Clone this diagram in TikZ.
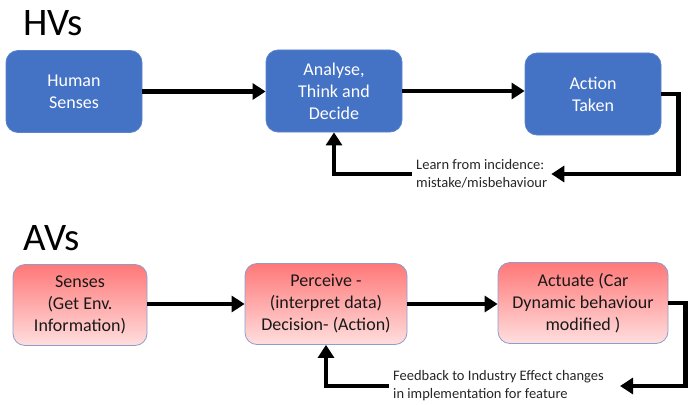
\documentclass[tikz,border=0pt]{standalone}
\usepackage{fontspec}
\setmainfont{Carlito}
\usetikzlibrary{arrows.meta}

\definecolor{hvblue}{HTML}{4472C4}
\definecolor{hvedge}{HTML}{5B84CF}
\definecolor{avtop}{HTML}{FF7878}
\definecolor{avbot}{HTML}{FFDEDE}
\definecolor{avedge}{HTML}{8C9ED0}

\tikzset{
 hvbox/.style={draw=hvedge,fill=hvblue,rounded corners=12pt,line width=0.8pt,
   text=white,align=center,minimum width=136pt,minimum height=82pt,
   font=\fontsize{18}{22}\selectfont},
 avbox/.style={draw=avedge,top color=avtop,bottom color=avbot,rounded corners=12pt,
   line width=0.8pt,text=black!90,align=center,minimum height=81pt,
   font=\fontsize{18}{22}\selectfont},
 flow/.style={line width=4.5pt,-{Triangle[length=13pt,width=16pt]}},
 note/.style={anchor=west,align=left,inner sep=4pt,text=black!85,
   font=\fontsize{14.5}{18}\selectfont},
 heading/.style={anchor=base west,inner sep=0pt,font=\fontsize{39}{42}\selectfont}
}

\begin{document}
\begin{tikzpicture}[x=1pt,y=-1pt]
 \useasboundingbox (0,0) rectangle (690,404);

% Human driven vehicles
 \node[heading] (hvt) at (23,36) {HVs};
 \node[hvbox] (hs) at (74,91.5) {Human\\Senses};
 \node[hvbox] (atd) at (334,91) {Analyse,\\Think and\\Decide};
 \node[hvbox] (at) at (593,94) {Action\\Taken};
 \node[note] (lrn) at (412,174) {Learn from incidence:\\mistake/misbehaviour};

 \draw[flow] (hs.east) -- (hs.east -| atd.west);
 \draw[flow] (atd.east) -- (atd.east -| at.west);
 \draw[flow] (at.east) -- ++(17,0) |- (lrn.east); % back to the note
 \draw[flow] (lrn.west) -| (atd.south);

% Autonomous vehicles
 \node[heading] (avt) at (23,250) {AVs};
 \node[avbox,minimum width=134pt] (sen) at (80,305) {Senses\\(Get Env.\\Information)};
 \node[avbox,minimum width=162pt] (per) at (326,304) {Perceive -\\(interpret data)\\Decision- (Action)};
 \node[avbox,minimum width=170pt] (act) at (583,303) {Actuate (Car\\Dynamic behaviour\\modified )};
 \node[note] (fb) at (389,386) {Feedback to Industry Effect changes\\in implementation for feature};

 \draw[flow] (sen.east |- per.east) -- (per.west);
 \draw[flow] (per.east) -- (per.east -| act.west);
 \draw[flow,shorten >=12pt] (act.east) -- ++(17,0) |- (fb.east); % feedback loop
 \draw[flow] (fb.west) -| (per.south);

\end{tikzpicture}
\end{document}
